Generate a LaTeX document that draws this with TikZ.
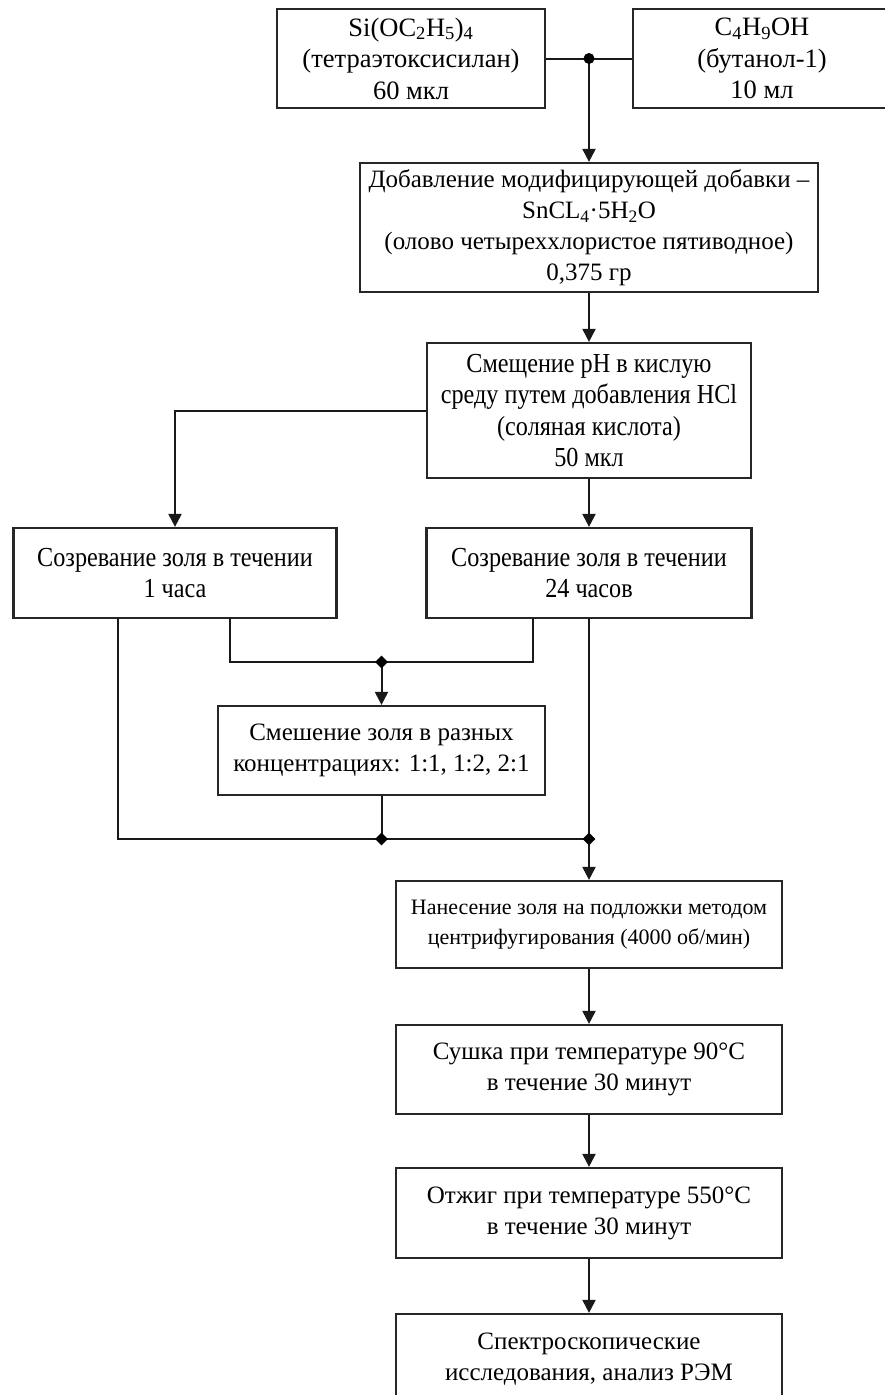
\documentclass[tikz,border=0pt]{standalone}
\usepackage{fontspec}
\setmainfont{Liberation Serif}
\newfontfamily\condfont[FakeStretch=0.88]{Liberation Serif}
\usetikzlibrary{arrows.meta,shapes.geometric}
\begin{document}
\begin{tikzpicture}[x=1pt,y=-1pt,
  box/.style={draw=black!85, line width=2.2pt, align=center, inner sep=0pt, font=\fontsize{25}{31}\selectfont},
  tbox/.style={box, font=\fontsize{26.5}{31.5}\selectfont},
  cbox/.style={box, font=\condfont\fontsize{27.5}{31.5}\selectfont},
  sbox/.style={box, font=\fontsize{22}{30}\selectfont},
  ln/.style={line width=2pt, draw=black!90},
  arr/.style={ln, -{Triangle[width=13pt,length=13pt]}},
  jdot/.style={diamond, fill=black, inner sep=0pt, minimum size=13pt},
  jcirc/.style={circle, fill=black, inner sep=0pt, minimum size=11pt}]
\useasboundingbox (0,0) rectangle (885,1395);

\node[tbox, minimum width=268pt, minimum height=99pt] (si) at (411,58.5)
  {Si(OC\textsubscript{2}H\textsubscript{5})\textsubscript{4}\\(тетраэтоксисилан)\\60 мкл};
\node[tbox, minimum width=258pt, minimum height=99pt] (bu) at (762,58.5)
  {C\textsubscript{4}H\textsubscript{9}OH\\(бутанол-1)\\10 мл};
\node[box, minimum width=458pt, minimum height=129pt] (dob) at (589,227.5)
  {Добавление модифицирующей добавки –\\SnCL\textsubscript{4}·5H\textsubscript{2}O\\(олово четыреххлористое пятиводное)\\0,375 гр};
\node[cbox, minimum width=324pt, minimum height=135pt] (smes) at (589,410.5)
  {Смещение pH в кислую\\среду путем добавления HCl\\(соляная кислота)\\50 мкл};
\node[cbox, minimum width=323pt, minimum height=90pt] (s1) at (175,573)
  {Созревание золя в течении\\1 часа};
\node[cbox, minimum width=325pt, minimum height=90pt] (s24) at (589,573)
  {Созревание золя в течении\\24 часов};
\node[box, minimum width=327pt, minimum height=89pt] (mix) at (381.5,750.5)
  {Смешение золя в разных\\концентрациях: 1:1, 1:2, 2:1};
\node[sbox, minimum width=386pt, minimum height=87pt] (nan) at (589,924.5)
  {Нанесение золя на подложки методом\\центрифугирования (4000 об/мин)};
\node[box, minimum width=386pt, minimum height=89pt] (sush) at (589,1069.5)
  {Сушка при температуре 90°C\\в течение 30 минут};
\node[box, minimum width=386pt, minimum height=90pt] (otzh) at (589,1213)
  {Отжиг при температуре 550°C\\в течение 30 минут};
\node[box, minimum width=386pt, minimum height=90pt] (spek) at (589,1359)
  {Спектроскопические\\исследования, анализ РЭМ};

% junction coordinates
\coordinate (j1) at (dob.north |- si.east);
\coordinate (a1) at (118,618);
\coordinate (a2) at (230,618);
\coordinate (b1) at (533,618);
\coordinate (b2) at (589,618);
\coordinate (j2) at (mix.north |- 0,662);
\coordinate (j3) at (mix.south |- 0,839);
\coordinate (j4) at (589,839);

% connectors
\draw[ln] (si.east) -- (bu.west);
\draw[arr] (j1) -- (dob.north);
\draw[arr] (dob.south) -- (smes.north);
\draw[arr] (smes.south) -- (s24.north);
\draw[arr] (smes.west) -| (s1.north);
\draw[ln] (a2) |- (j2) -| (b1);
\draw[arr] (j2) -- (mix.north);
\draw[ln] (a1) |- (j4);
\draw[ln] (mix.south) -- (j3);
\draw[ln] (b2) -- (j4);
\draw[arr] (j4) -- (nan.north);
\draw[arr] (nan.south) -- (sush.north);
\draw[arr] (sush.south) -- (otzh.north);
\draw[arr] (otzh.south) -- (spek.north);

% junction dots
\node[jcirc] at (j1) {};
\node[jdot] at (j2) {};
\node[jdot] at (j3) {};
\node[jdot] at (j4) {};
\end{tikzpicture}
\end{document}
